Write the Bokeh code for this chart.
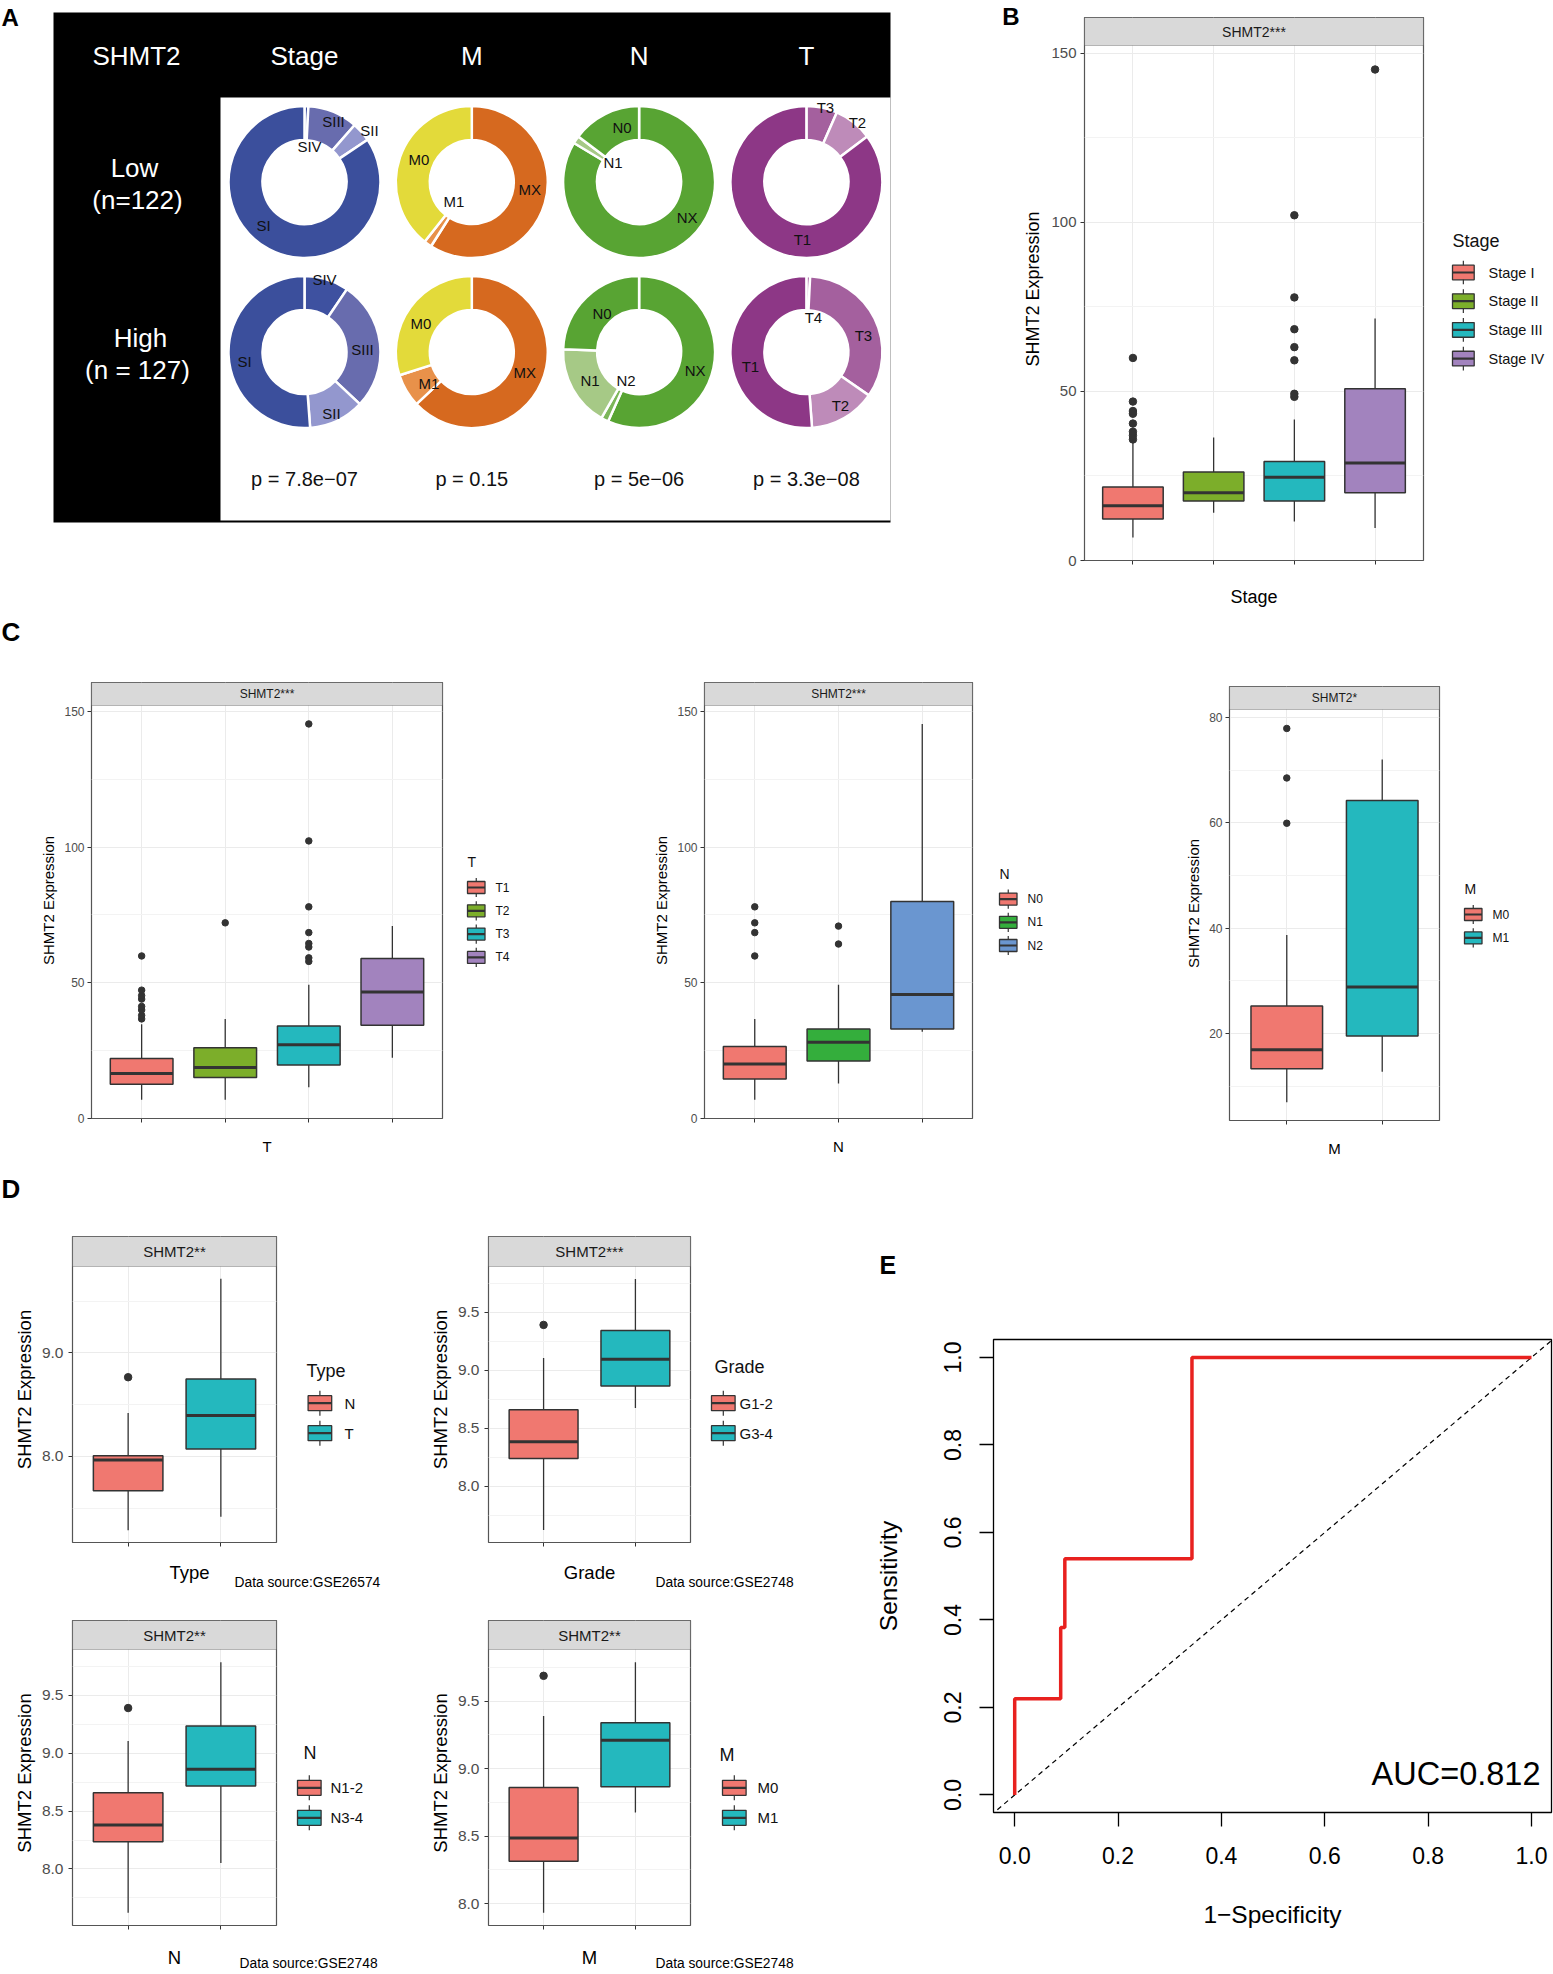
import math
from bokeh.plotting import figure
from bokeh.models import (ColumnDataSource, Range1d, FixedTicker, Label, BoxAnnotation,
                          PrintfTickFormatter)
from bokeh.layouts import row, column
from bokeh.core.properties import value
from bokeh.embed import file_html
from bokeh.resources import INLINE

FONT = "Liberation Sans"

# ======================= DATA =======================
# Panel A: sample counts per group, listed clockwise from 12 o'clock
stage_cats = ["SIV", "SIII", "SII", "SI"]
stage_low = [1, 13, 5, 103]
stage_high = [12, 35, 15, 65]
m_cats = ["MX", "M1", "M0"]
m_low = [72, 2, 48]
m_high = [80, 9, 38]
n_cats = ["NX", "N2", "N1", "N0"]
n_low = [102, 0, 2, 18]
n_high = [72, 2, 22, 31]
t_cats = ["T4", "T3", "T2", "T1"]
t_low = [0, 8, 10, 104]
t_high = [1, 43, 18, 65]
a_headers = ["SHMT2", "Stage", "M", "N", "T"]
a_rows = [["Low", "(n=122)"], ["High", "(n = 127)"]]
a_pvalues = ["p = 7.8e\u221207", "p = 0.15", "p = 5e\u221206", "p = 3.3e\u221208"]

# Panel B: SHMT2 expression by Stage
b_cats = ["Stage I", "Stage II", "Stage III", "Stage IV"]
b_q1 = [12.3, 17.6, 17.6, 20.0]
b_med = [16.2, 20.0, 24.6, 28.8]
b_q3 = [21.7, 26.2, 29.3, 50.8]
b_lo = [6.8, 14.1, 11.5, 9.6]
b_hi = [35.2, 36.4, 41.7, 71.6]
b_out_grp = ["Stage I"] * 8 + ["Stage III"] * 7 + ["Stage IV"]
b_out_val = [35.8, 37.0, 38.1, 40.5, 43.4, 44.2, 47.0, 59.9,
             48.4, 49.3, 59.2, 63.1, 68.4, 77.8, 102.1, 145.2]

# Panel C: by T, N, M
ct_cats = ["T1", "T2", "T3", "T4"]
ct_q1 = [12.6, 15.1, 19.7, 34.4]
ct_med = [16.6, 18.8, 27.2, 46.6]
ct_q3 = [22.1, 26.1, 34.1, 59.0]
ct_lo = [6.9, 6.9, 11.5, 22.4]
ct_hi = [34.7, 36.7, 49.3, 70.9]
ct_out_grp = ["T1"] * 8 + ["T2"] + ["T3"] * 8
ct_out_val = [36.7, 38.0, 40.0, 41.3, 44.0, 45.3, 47.3, 59.9, 72.1,
              57.9, 59.2, 63.2, 64.5, 68.5, 78.0, 102.3, 145.4]

cn_cats = ["N0", "N1", "N2"]
cn_q1 = [14.6, 21.2, 33.0]
cn_med = [20.1, 28.1, 45.7]
cn_q3 = [26.5, 33.0, 80.0]
cn_lo = [6.9, 12.9, 32.0]
cn_hi = [36.7, 49.3, 145.4]
cn_out_grp = ["N0"] * 4 + ["N1"] * 2
cn_out_val = [59.9, 68.5, 72.1, 78.0, 64.3, 70.9]

cm_cats = ["M0", "M1"]
cm_q1 = [13.3, 19.5]
cm_med = [16.9, 28.8]
cm_q3 = [25.2, 64.2]
cm_lo = [6.9, 12.7]
cm_hi = [38.7, 72.0]
cm_out_grp = ["M0"] * 3
cm_out_val = [59.9, 68.5, 77.9]

# Panel D: GEO validation sets
d1_cats = ["N", "T"]
d1_q1 = [7.668, 8.071]
d1_med = [7.965, 8.394]
d1_q3 = [8.006, 8.748]
d1_lo = [7.287, 7.416]
d1_hi = [8.419, 9.716]
d1_out_grp = ["N"]
d1_out_val = [8.765]

d2_cats = ["G1-2", "G3-4"]
d2_q1 = [8.241, 8.865]
d2_med = [8.385, 9.095]
d2_q3 = [8.661, 9.342]
d2_lo = [7.624, 8.675]
d2_hi = [9.106, 9.787]
d2_out_grp = ["G1-2"]
d2_out_val = [9.391]

d3_cats = ["N1-2", "N3-4"]
d3_q1 = [8.236, 8.716]
d3_med = [8.379, 8.862]
d3_q3 = [8.658, 9.236]
d3_lo = [7.621, 8.052]
d3_hi = [9.106, 9.787]
d3_out_grp = ["N1-2"]
d3_out_val = [9.391]

d4_cats = ["M0", "M1"]
d4_q1 = [8.313, 8.865]
d4_med = [8.485, 9.209]
d4_q3 = [8.860, 9.340]
d4_lo = [7.931, 8.675]
d4_hi = [9.389, 9.788]
d4_out_grp = ["M0"]
d4_out_val = [9.687]

d_xlabels = ["Type", "Grade", "N", "M"]
d_sources = ["Data source:GSE26574", "Data source:GSE2748",
             "Data source:GSE2748", "Data source:GSE2748"]

# Panel E: ROC curve
roc_fpr = [0.0, 0.0, 0.089, 0.089, 0.097, 0.097, 0.343, 0.343, 1.0]
roc_tpr = [0.0, 0.22, 0.22, 0.383, 0.383, 0.54, 0.54, 1.0, 1.0]
auc_text = "AUC=0.812"

# ======================= STYLE =======================
PAL4 = ["#F07870", "#7CAE2A", "#24B8BE", "#A283BE"]
PALN = ["#F07870", "#34AE3C", "#6A96D0"]
PAL2 = ["#F07870", "#24B8BE"]
slice_colors = {
    "SI": "#3B4F9C", "SII": "#9397CE", "SIII": "#686CAE", "SIV": "#3E51A0",
    "M0": "#E3DA3A", "M1": "#E8914A", "MX": "#D6691F",
    "N0": "#58A433", "N1": "#A6C986", "N2": "#7CB659", "NX": "#58A433",
    "T1": "#8D3786", "T2": "#BE8BB9", "T3": "#A4609E", "T4": "#8D3786",
}
# label offsets (px) relative to donut centres: layout only
label_off = [
    {"SIII": (29, -61), "SII": (65, -52), "SIV": (5, -36), "SI": (-41, 43),
     "M0": (-53, -23), "M1": (-18, 19), "MX": (58, 7),
     "N0": (-17, -55), "N1": (-26, -20), "NX": (48, 35),
     "T3": (19, -75), "T2": (51, -60), "T1": (-4, 57)},
    {"SIV": (20, -73), "SIII": (58, -3), "SII": (27, 61), "SI": (-60, 9),
     "M0": (-51, -29), "M1": (-43, 31), "MX": (53, 20),
     "N0": (-37, -39), "N1": (-49, 28), "N2": (-13, 28), "NX": (56, 18),
     "T4": (7, -35), "T3": (57, -17), "T1": (-56, 14), "T2": (34, 53)},
]


def blank_fig(gx0, gy0, gx1, gy1):
    p = figure(width=gx1 - gx0, height=gy1 - gy0, min_border=0, x_range=Range1d(gx0, gx1),
               y_range=Range1d(-gy1, -gy0), x_axis_location=None, y_axis_location=None,
               toolbar_location=None, output_backend="svg", outline_line_color=None,
               frame_align=False)
    p.grid.visible = False
    return p


def put_text(p, xs, ys, texts, size, align="left", baseline="middle", bold=False,
             color="black"):
    p.text(x=list(xs), y=[-v for v in ys], text=list(texts), text_font=value(FONT),
           text_font_size=value(size), text_font_style="bold" if bold else "normal",
           text_align=align, text_baseline=baseline, text_color=color)


# ======================= PANEL A =======================
def panel_a():
    p = blank_fig(0, 0, 1020, 612)
    p.quad(left=[53], right=[890], top=[-12], bottom=[-522], fill_color="black", line_color=None)
    p.quad(left=[220], right=[890], top=[-97], bottom=[-520], fill_color="white", line_color=None)

    col_x = [304 + 167.3 * i for i in range(4)]
    row_y = [181.6, 351.6]
    groups = [(stage_cats, stage_low, stage_high), (m_cats, m_low, m_high),
              (n_cats, n_low, n_high), (t_cats, t_low, t_high)]
    w = dict(x=[], y=[], s=[], e=[], c=[])
    lab = dict(x=[], y=[], t=[])
    for ci, (cats, low, high) in enumerate(groups):
        for ri, counts in enumerate((low, high)):
            tot = float(sum(counts))
            cum = 0.0
            for cat, cnt in zip(cats, counts):
                if cnt == 0:
                    continue
                a0 = cum / tot
                cum += cnt
                a1 = cum / tot
                w["x"].append(col_x[ci]); w["y"].append(-row_y[ri])
                w["s"].append(math.pi / 2 - a0 * 2 * math.pi)
                w["e"].append(math.pi / 2 - a1 * 2 * math.pi)
                w["c"].append(slice_colors[cat])
                dx, dy = label_off[ri][cat]
                lab["x"].append(col_x[ci] + dx); lab["y"].append(-(row_y[ri] + dy))
                lab["t"].append(cat)
    p.annular_wedge(x="x", y="y", inner_radius=42, outer_radius=76, start_angle="s",
                    end_angle="e", direction="clock", fill_color="c", line_color="white",
                    line_width=2.5, source=ColumnDataSource(w))
    p.text(x="x", y="y", text="t", source=ColumnDataSource(lab), text_font=value(FONT),
           text_font_size=value("15px"), text_align="center", text_baseline="middle",
           text_color="#111111")
    put_text(p, [136] + col_x, [55] * 5, a_headers, "26px", align="center", color="white")
    put_text(p, [134, 137], [167, 199], a_rows[0], "26px", align="center", color="white")
    put_text(p, [140, 137], [337, 369], a_rows[1], "26px", align="center", color="white")
    put_text(p, col_x, [478] * 4, a_pvalues, "20px", align="center", color="#111111")
    put_text(p, [1], [16.5], ["A"], "24px", bold=True)
    put_text(p, [1019], [15.5], ["B"], "24px", align="right", bold=True)
    return p


# ======================= BOX PANELS =======================
def box_panel(spec, cats, colors, q1, med, q3, lo, hi, out_grp, out_val):
    gx0, gy0, gx1, gy1 = spec["g"]
    fx0, fy0, fx1, fy1 = spec["f"]
    fw, fh = fx1 - fx0, fy1 - fy0
    n = len(cats)
    ylo, yhi = spec["ylim"]
    strip = spec["strip"]
    upp = (yhi - ylo) / (fh - strip)
    xr = (0.4, n + 0.6)
    yr = (ylo, yhi + strip * upp)

    p = figure(frame_width=fw, frame_height=fh, min_border_left=fx0 - gx0,
               min_border_right=gx1 - fx1, min_border_top=fy0 - gy0,
               min_border_bottom=gy1 - fy1, x_range=Range1d(*xr), y_range=Range1d(*yr),
               output_backend="svg", toolbar_location=None, frame_align=False)
    p.outline_line_color = "#555555"
    p.outline_line_width = 1.2
    xs = list(range(1, n + 1))
    src = ColumnDataSource(dict(x=xs, x0=[x - 0.375 for x in xs], x1=[x + 0.375 for x in xs],
                                q1=q1, med=med, q3=q3, lo=lo, hi=hi, color=colors[:n]))
    p.segment(x0="x", y0="lo", x1="x", y1="hi", source=src, line_color="#333333", line_width=1.3)
    p.vbar(x="x", width=0.75, bottom="q1", top="q3", source=src, fill_color="color",
           line_color="#333333", line_width=1.5)
    p.segment(x0="x0", y0="med", x1="x1", y1="med", source=src, line_color="#333333",
              line_width=3)
    ox = [cats.index(g) + 1 for g in out_grp]
    p.scatter(ox, out_val, size=spec["dot"], color="#333333")

    # facet strip
    p.add_layout(BoxAnnotation(left=xr[0], right=xr[1], bottom=yhi, top=yr[1],
                               fill_color="#D9D9D9", fill_alpha=1.0, line_color="#333333",
                               line_width=1.2))
    p.add_layout(Label(x=(xr[0] + xr[1]) / 2, y=(yhi + yr[1]) / 2, text=spec["strip_text"],
                       text_font=FONT, text_font_size=spec["strip_fs"], text_align="center",
                       text_baseline="middle", text_color="#1A1A1A"))

    # axes
    p.xaxis.ticker = FixedTicker(ticks=xs)
    p.xaxis.major_label_overrides = {x: "" for x in xs}
    p.yaxis.ticker = FixedTicker(ticks=spec["yticks"])
    p.yaxis.formatter = PrintfTickFormatter(format=spec["yfmt"])
    for ax in (p.xaxis[0], p.yaxis[0]):
        ax.axis_line_color = None
        ax.major_tick_line_color = "#333333"
        ax.major_tick_out = 4
        ax.major_tick_in = 0
        ax.minor_tick_line_color = None
        ax.major_label_text_color = "#4D4D4D"
        ax.major_label_text_font = FONT
        ax.axis_label_text_font = FONT
        ax.axis_label_text_font_style = "normal"
        ax.axis_label_text_color = "black"
        ax.axis_label_text_font_size = spec["title_fs"]
    p.yaxis.major_label_text_font_size = spec["tick_fs"]
    p.xaxis.major_label_text_font_size = spec["tick_fs"]
    p.yaxis.major_label_standoff = spec["ylab_so"]
    p.yaxis.axis_label = "SHMT2 Expression"
    p.yaxis.axis_label_standoff = spec["ytitle_so"]
    if spec.get("xlabel"):
        p.xaxis.axis_label = spec["xlabel"]
        p.xaxis.axis_label_standoff = spec["xtitle_so"]
    p.xaxis.major_label_standoff = 0

    p.xgrid.ticker = FixedTicker(ticks=xs)
    p.ygrid.ticker = FixedTicker(ticks=spec["yticks"], minor_ticks=spec["yminor"])
    p.xgrid.grid_line_color = "#EBEBEB"
    p.ygrid.grid_line_color = "#EBEBEB"
    p.ygrid.minor_grid_line_color = "#F3F3F3"
    return p


def legend_fig(g, title, cats, colors, L):
    p = blank_fig(*g)
    n = len(cats)
    ys = [L["row0"] + i * L["pitch"] for i in range(n)]
    kx0 = L["key_left"]
    kx1 = kx0 + L["kw"]
    kxc = (kx0 + kx1) / 2
    kh, ext = L["kh"], L["ext"]
    p.segment(x0=[kxc] * n, x1=[kxc] * n, y0=[-(y - kh / 2 - ext) for y in ys],
              y1=[-(y + kh / 2 + ext) for y in ys], line_color="#333333", line_width=1.2)
    p.quad(left=[kx0] * n, right=[kx1] * n, top=[-(y - kh / 2) for y in ys],
           bottom=[-(y + kh / 2) for y in ys], fill_color=colors[:n], line_color="#333333",
           line_width=1.3)
    p.segment(x0=[kx0] * n, x1=[kx1] * n, y0=[-y for y in ys], y1=[-y for y in ys],
              line_color="#333333", line_width=2.2)
    put_text(p, [L["label_x"]] * n, ys, cats, L["label_fs"], color="#111111")
    put_text(p, [L["title_x"]], [L["title_cy"]], [title], L["title_fs"], color="#111111")
    return p


specB = dict(g=(1020, 0, 1425, 612), f=(1084, 17, 1423, 560), strip=28, ylim=(0, 152.3),
             yticks=[0, 50, 100, 150], yminor=[25, 75, 125], yfmt="%d", dot=7.5,
             strip_text="SHMT2***", strip_fs="14px", tick_fs="15px", title_fs="18px",
             ylab_so=4, ytitle_so=5, xtitle_so=22, xlabel="Stage")
legB = dict(key_left=1452, kw=21.7, kh=14.7, ext=4.5, row0=272, pitch=28.7, label_x=1488,
            label_fs="14.5px", title_x=1452, title_cy=240, title_fs="18px")

C_COMMON = dict(strip=23, yfmt="%d", dot=6.5, strip_fs="12px",
                tick_fs="12px", title_fs="15px", ylab_so=3, ytitle_so=4, xtitle_so=15)
specC1 = dict(C_COMMON, g=(0, 660, 444, 1165), f=(91, 682, 442, 1118), ylim=(0, 152.2),
              yticks=[0, 50, 100, 150], yminor=[25, 75, 125], xlabel="T", strip_text="SHMT2***")
legC1 = dict(key_left=467, kw=17.5, kh=12, ext=3.6, row0=887, pitch=23.3, label_x=495,
             label_fs="12px", title_x=467, title_cy=861, title_fs="14px")
specC2 = dict(C_COMMON, g=(560, 660, 974, 1165), f=(704, 682, 972, 1118), ylim=(0, 152.2),
              yticks=[0, 50, 100, 150], yminor=[25, 75, 125], xlabel="N", strip_text="SHMT2***")
legC2 = dict(key_left=999, kw=17.5, kh=12, ext=3.6, row0=898.6, pitch=23.2, label_x=1027,
             label_fs="12px", title_x=999, title_cy=873, title_fs="14px")
specC3 = dict(C_COMMON, g=(1160, 660, 1441, 1165), f=(1229, 686, 1439, 1120),
              ylim=(3.45, 81.5), yticks=[20, 40, 60, 80], yminor=[10, 30, 50, 70],
              xlabel="M", strip_text="SHMT2*")
legC3 = dict(key_left=1464, kw=17.5, kh=12, ext=3.6, row0=914, pitch=23.4, label_x=1492,
             label_fs="12px", title_x=1464, title_cy=888, title_fs="14px")

D_COMMON = dict(yfmt="%.1f", dot=7.5, strip_fs="15px", tick_fs="15.5px", title_fs="18.5px",
                ylab_so=5, ytitle_so=4)
specD1 = dict(D_COMMON, g=(0, 1210, 278, 1552), f=(72, 1236, 276, 1542), strip=30,
              ylim=(7.168, 9.835), yticks=[8.0, 9.0], yminor=[7.5, 8.5, 9.5],
              strip_text="SHMT2**")
legD1 = dict(key_left=307.6, kw=23.6, kh=15, ext=5, row0=1402.7, pitch=30, label_x=344,
             label_fs="15px", title_x=306, title_cy=1370, title_fs="18px")
specD2 = dict(D_COMMON, g=(420, 1210, 692, 1552), f=(488, 1236, 690, 1542), strip=30,
              ylim=(7.517, 9.894), yticks=[8.0, 8.5, 9.0, 9.5],
              yminor=[7.75, 8.25, 8.75, 9.25, 9.75], strip_text="SHMT2***")
legD2 = dict(key_left=711, kw=23.6, kh=15, ext=5, row0=1402.7, pitch=30, label_x=739,
             label_fs="15px", title_x=714, title_cy=1366, title_fs="18px")
specD3 = dict(D_COMMON, g=(0, 1600, 278, 1935), f=(72, 1620, 276, 1925), strip=29,
              ylim=(7.511, 9.897), yticks=[8.0, 8.5, 9.0, 9.5],
              yminor=[7.75, 8.25, 8.75, 9.25, 9.75], strip_text="SHMT2**")
legD3 = dict(key_left=297, kw=23.6, kh=15, ext=5, row0=1787.3, pitch=30, label_x=330,
             label_fs="15px", title_x=303, title_cy=1752, title_fs="18px")
specD4 = dict(D_COMMON, g=(420, 1600, 692, 1935), f=(488, 1620, 690, 1925), strip=29,
              ylim=(7.837, 9.882), yticks=[8.0, 8.5, 9.0, 9.5],
              yminor=[8.25, 8.75, 9.25, 9.75], strip_text="SHMT2**")
legD4 = dict(key_left=722, kw=23.6, kh=15, ext=5, row0=1787.3, pitch=30, label_x=757,
             label_fs="15px", title_x=719, title_cy=1754, title_fs="18px")


# ======================= PANEL E =======================
def panel_e():
    gx0, gy0, gx1, gy1 = 852, 1290, 1553, 1974
    fx0, fy0, fx1, fy1 = 993, 1339, 1551, 1812
    fw, fh = fx1 - fx0, fy1 - fy0
    x0px, x1px = 1014.2, 1531.0
    ppu = x1px - x0px
    xr = ((fx0 - x0px) / ppu, (fx1 - x0px) / ppu)
    yr = (-0.04, 1.041)

    def to_data(px, py):
        return (xr[0] + (px - fx0) / fw * (xr[1] - xr[0]),
                yr[1] - (py - fy0) / fh * (yr[1] - yr[0]))

    p = figure(frame_width=fw, frame_height=fh, min_border_left=fx0 - gx0,
               min_border_right=gx1 - fx1, min_border_top=fy0 - gy0,
               min_border_bottom=gy1 - fy1, x_range=Range1d(*xr), y_range=Range1d(*yr),
               output_backend="svg", toolbar_location=None, frame_align=False)
    p.grid.visible = False
    p.outline_line_color = "black"
    p.outline_line_width = 1.3
    p.line([-0.1, 1.1], [-0.1, 1.1], line_color="black", line_width=1.2, line_dash="5 4")
    p.line(roc_fpr, roc_tpr, line_color="#E8211F", line_width=3.5)
    ticks = [0.0, 0.2, 0.4, 0.6, 0.8, 1.0]
    for ax in (p.xaxis[0], p.yaxis[0]):
        ax.ticker = FixedTicker(ticks=ticks)
        ax.formatter = PrintfTickFormatter(format="%.1f")
        ax.axis_line_color = None
        ax.major_tick_line_color = "black"
        ax.major_tick_line_width = 1.3
        ax.major_tick_out = 14
        ax.major_tick_in = 0
        ax.minor_tick_line_color = None
        ax.major_label_text_font = FONT
        ax.major_label_text_font_size = "23px"
        ax.major_label_text_color = "black"
        ax.axis_label_text_font = FONT
        ax.axis_label_text_font_size = "24.5px"
        ax.axis_label_text_font_style = "normal"
        ax.axis_label_text_color = "black"
    p.xaxis.major_label_standoff = 20
    p.xaxis.axis_label = "1\u2212Specificity"
    p.xaxis.axis_label_standoff = 34
    p.yaxis.major_label_orientation = "vertical"
    p.yaxis.major_label_standoff = 18
    p.yaxis.axis_label = "Sensitivity"
    p.yaxis.axis_label_standoff = 40
    x, y = to_data(1540, 1773)
    p.add_layout(Label(x=x, y=y, text=auc_text, text_font=FONT, text_font_size="32.5px",
                       text_align="right", text_baseline="alphabetic", text_color="black"))
    return p


pA = panel_a()
pB = box_panel(specB, b_cats, PAL4, b_q1, b_med, b_q3, b_lo, b_hi, b_out_grp, b_out_val)
pBl = legend_fig((1425, 0, 1553, 612), "Stage", b_cats, PAL4, legB)

pCl = blank_fig(0, 612, 1553, 660)
put_text(pCl, [1], [631], ["C"], "26px", bold=True)
pC1 = box_panel(specC1, ct_cats, PAL4, ct_q1, ct_med, ct_q3, ct_lo, ct_hi, ct_out_grp, ct_out_val)
pC1l = legend_fig((444, 660, 560, 1165), "T", ct_cats, PAL4, legC1)
pC2 = box_panel(specC2, cn_cats, PALN, cn_q1, cn_med, cn_q3, cn_lo, cn_hi, cn_out_grp, cn_out_val)
pC2l = legend_fig((974, 660, 1160, 1165), "N", cn_cats, PALN, legC2)
pC3 = box_panel(specC3, cm_cats, PAL2, cm_q1, cm_med, cm_q3, cm_lo, cm_hi, cm_out_grp, cm_out_val)
pC3l = legend_fig((1441, 660, 1553, 1165), "M", cm_cats, PAL2, legC3)

pDl = blank_fig(0, 1165, 1553, 1210)
put_text(pDl, [1], [1188], ["D"], "26px", bold=True)
pD1 = box_panel(specD1, d1_cats, PAL2, d1_q1, d1_med, d1_q3, d1_lo, d1_hi, d1_out_grp, d1_out_val)
pD1l = legend_fig((278, 1210, 420, 1552), "Type", d1_cats, PAL2, legD1)
pD2 = box_panel(specD2, d2_cats, PAL2, d2_q1, d2_med, d2_q3, d2_lo, d2_hi, d2_out_grp, d2_out_val)
pD2l = legend_fig((692, 1210, 852, 1552), "Grade", d2_cats, PAL2, legD2)
pDs1 = blank_fig(0, 1552, 852, 1600)
put_text(pDs1, [189, 589], [1572, 1572], d_xlabels[:2], "18.5px", align="center")
put_text(pDs1, [234, 655], [1582, 1582], d_sources[:2], "13.8px")
pD3 = box_panel(specD3, d3_cats, PAL2, d3_q1, d3_med, d3_q3, d3_lo, d3_hi, d3_out_grp, d3_out_val)
pD3l = legend_fig((278, 1600, 420, 1935), "N", d3_cats, PAL2, legD3)
pD4 = box_panel(specD4, d4_cats, PAL2, d4_q1, d4_med, d4_q3, d4_lo, d4_hi, d4_out_grp, d4_out_val)
pD4l = legend_fig((692, 1600, 852, 1935), "M", d4_cats, PAL2, legD4)
pDs2 = blank_fig(0, 1935, 852, 1974)
put_text(pDs2, [174, 589], [1957, 1957], d_xlabels[2:], "18.5px", align="center")
put_text(pDs2, [239, 655], [1963, 1963], d_sources[2:], "13.8px")

pEl = blank_fig(852, 1210, 1553, 1290)
put_text(pEl, [879], [1264], ["E"], "25px", bold=True)
pE = panel_e()

layout = column(
    row(pA, pB, pBl),
    column(pCl, row(pC1, pC1l, pC2, pC2l, pC3, pC3l)),
    column(pDl,
           row(column(row(pD1, pD1l, pD2, pD2l), pDs1, row(pD3, pD3l, pD4, pD4l), pDs2),
               column(pEl, pE))),
)

open("out.html", "w").write(file_html(layout, INLINE))
